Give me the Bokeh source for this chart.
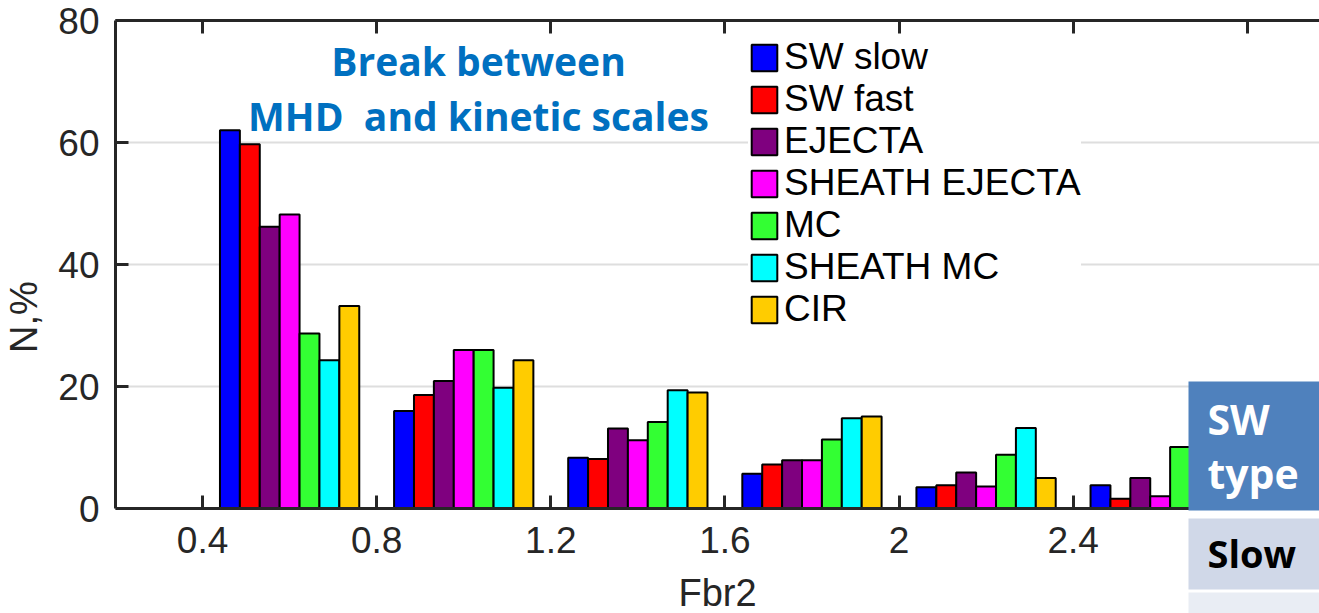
from bokeh.plotting import figure
from bokeh.models import Range1d, FixedTicker, LinearAxis, BoxAnnotation, Label
from bokeh.embed import file_html
from bokeh.resources import INLINE

# Histogram of the break frequency Fbr2 for each solar-wind type (percent of events)
bin_centers = [0.6, 1.0, 1.4, 1.8, 2.2, 2.6]
series_names = ["SW slow", "SW fast", "EJECTA", "SHEATH EJECTA", "MC", "SHEATH MC", "CIR"]
sw_slow = [62.0, 16.0, 8.3, 5.7, 3.5, 3.8]
sw_fast = [59.7, 18.6, 8.1, 7.2, 3.8, 1.6]
ejecta = [46.2, 20.9, 13.1, 7.9, 5.9, 5.0]
sheath_ejecta = [48.2, 26.0, 11.2, 7.9, 3.6, 2.0]
mc = [28.7, 26.0, 14.2, 11.3, 8.8, 10.1]
sheath_mc = [24.3, 19.8, 19.4, 14.8, 13.2, 6.5]
cir = [33.2, 24.3, 19.0, 15.1, 5.0, 3.5]
series_values = [sw_slow, sw_fast, ejecta, sheath_ejecta, mc, sheath_mc, cir]
series_colors = ["#0000FF", "#FF0000", "#7F007F", "#FF00FF", "#33FF33", "#00FFFF", "#FFCC00"]

x_ticks = [0.4, 0.8, 1.2, 1.6, 2.0, 2.4, 2.8]
x_tick_labels = ["0.4", "0.8", "1.2", "1.6", "2", "2.4", "2.8"]
y_ticks = [0, 20, 40, 60, 80]

AXIS_COLOR = "#262626"
TICK_FONT = "Liberation Sans"
W, H = 1319, 613
LEFT, TOP = 115, 20          # frame offset inside the canvas
PX_PER_Y = 6.1               # vertical pixels per percent

# the frame reaches the bottom of the canvas so the table overlay can sit below the axis;
# the x axis itself is pinned at N = 0
y_low = 80 - (H - TOP) / PX_PER_Y

p = figure(width=W, height=H,
           x_range=Range1d(0.2, 2.966), y_range=Range1d(y_low, 80),
           output_backend="svg", toolbar_location=None,
           min_border_left=LEFT, min_border_right=0,
           min_border_top=TOP, min_border_bottom=0)
p.outline_line_color = None
p.background_fill_color = "white"
p.border_fill_color = "white"

# grouped bars: seven bars share 80% of each 0.4-wide bin
group_width = 0.32
bar_w = group_width / len(series_names)
for i, (name, vals, col) in enumerate(zip(series_names, series_values, series_colors)):
    xs = [c + (i - 3) * bar_w for c in bin_centers]
    p.vbar(x=xs, top=vals, bottom=0, width=bar_w, fill_color=col,
           line_color="black", line_width=2, legend_label=name)

# grid
p.xgrid.visible = False
p.ygrid.ticker = FixedTicker(ticks=y_ticks)
p.ygrid.grid_line_color = "#dedede"
p.ygrid.grid_line_width = 2

def style_axis(ax):
    ax.axis_line_color = AXIS_COLOR
    ax.axis_line_width = 3
    ax.major_tick_line_color = AXIS_COLOR
    ax.major_tick_line_width = 3
    ax.major_tick_in = 13
    ax.major_tick_out = 0
    ax.minor_tick_line_color = None
    ax.major_label_text_color = AXIS_COLOR
    ax.major_label_text_font = TICK_FONT
    ax.major_label_text_font_size = "37px"
    ax.axis_label_text_color = AXIS_COLOR
    ax.axis_label_text_font = TICK_FONT
    ax.axis_label_text_font_size = "38px"
    ax.axis_label_text_font_style = "normal"

xa = p.xaxis[0]
style_axis(xa)
xa.fixed_location = 0
xa.ticker = FixedTicker(ticks=x_ticks)
xa.major_label_overrides = dict(zip(x_ticks, x_tick_labels))
xa.major_label_standoff = 18
xa.axis_label = "Fbr2"
xa.axis_label_standoff = 16

ya = p.yaxis[0]
style_axis(ya)
ya.bounds = (0, 80)
ya.ticker = FixedTicker(ticks=y_ticks)
ya.major_label_standoff = 16
ya.axis_label = "N,%"
ya.axis_label_standoff = 10

# top box edge with inward ticks
top = LinearAxis(ticker=FixedTicker(ticks=x_ticks))
style_axis(top)
top.major_label_text_color = None
top.major_label_text_font_size = "1px"
top.major_label_standoff = 0
p.add_layout(top, "above")

# legend
lg = p.legend[0]
lg.location = (633, 283)
lg.label_text_font = TICK_FONT
lg.label_text_font_size = "37px"
lg.label_text_color = "black"
lg.glyph_width = 32
lg.glyph_height = 33
lg.label_height = 33
lg.label_standoff = 4
lg.spacing = 0
lg.padding = 8
lg.margin = 0
lg.border_line_color = None
lg.background_fill_color = "white"
lg.background_fill_alpha = 1.0

def sx(px):
    return px - LEFT

def sy(py):
    return H - py

# annotation text (positions are the text baselines in canvas pixels)
for txt, base_px in [("Break between", 75), ("MHD \u00a0and kinetic scales", 130)]:
    p.add_layout(Label(x=sx(478), y=sy(base_px - 15), x_units="screen", y_units="screen",
                       text=txt, text_align="center",
                       text_baseline="alphabetic", text_font="Open Sans",
                       text_font_style="bold", text_font_size="39px",
                       text_color="#0070C0"))

# table overlay in the lower right corner
cells = [(381, 510, "#4F81BD"), (518, 589, "#D0D8E8"), (592, 640, "#E9EDF4")]
for top_px, bot_px, col in cells:
    p.add_layout(BoxAnnotation(left=sx(1188), right=sx(1340),
                               top=sy(top_px), bottom=sy(bot_px),
                               left_units="screen", right_units="screen",
                               top_units="screen", bottom_units="screen",
                               fill_color=col, fill_alpha=1.0, line_color=None,
                               level="overlay"))

for txt, base_px, col, size in [("SW", 434, "white", 41), ("type", 488, "white", 41),
                                ("Slow", 567, "black", 38)]:
    p.add_layout(Label(x=sx(1207), y=sy(base_px - 0.38 * size), x_units="screen", y_units="screen",
                       text=txt, text_align="left", text_baseline="alphabetic",
                       text_font="Open Sans", text_font_style="bold",
                       text_font_size=f"{size}px", text_color=col, level="overlay"))

open("out.html", "w").write(file_html(p, INLINE))
